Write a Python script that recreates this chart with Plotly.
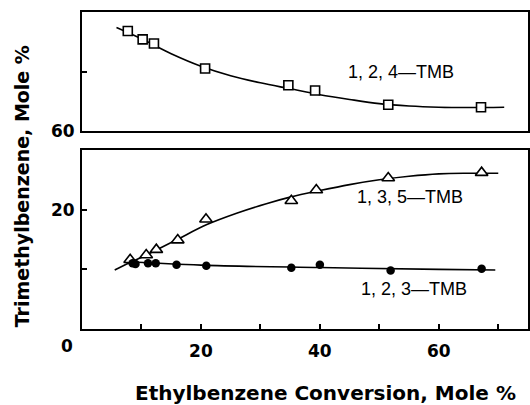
import plotly.graph_objects as go

# --- data ---
x_124 = [7.7, 10.2, 12.1, 20.7, 34.7, 39.2, 51.5, 67.1]
y_124 = [76.8, 75.4, 74.7, 70.5, 67.7, 66.8, 64.4, 64.0]
x_135 = [8.1, 10.8, 12.5, 16.1, 20.85, 35.2, 39.4, 51.5, 67.2]
y_135 = [11.6, 12.4, 13.3, 14.9, 18.4, 21.5, 23.3, 25.3, 26.2]
x_123 = [8.5, 9.0, 11.1, 12.4, 15.9, 20.9, 35.2, 40.0, 51.9, 67.2]
y_123 = [11.0, 10.9, 11.0, 11.0, 10.75, 10.6, 10.25, 10.75, 9.8, 10.1]

# fitted curves
cx_124 = [5.8, 10, 15, 20, 25, 30, 35, 40, 45, 50, 55, 60, 65, 71]
cy_124 = [77.4, 75.5, 73.0, 70.9, 69.3, 68.1, 67.1, 66.1, 65.3, 64.6, 64.2, 64.0, 63.95, 64.0]
cx_135 = [5.5, 8, 11, 13, 16, 21, 26, 31, 35, 40, 45, 50, 55, 60, 65, 70]
cy_135 = [9.9, 11.1, 12.5, 13.5, 15.0, 17.5, 19.4, 21.0, 22.1, 23.2, 24.2, 25.0, 25.6, 26.0, 26.1, 26.1]
cx_123 = [7.5, 20, 40, 60, 69.5]
cy_123 = [11.3, 10.7, 10.3, 10.0, 9.9]

x_ticks = [10, 20, 30, 40, 50, 60, 70]
x_ticktext = ["", "20", "", "40", "", "60", ""]
y_low_ticks = [10, 20]
y_low_ticktext = ["", "20"]
y_top_ticks = [60, 70]
y_top_ticktext = ["60", ""]

labels = ["1, 2, 4\u2014TMB", "1, 3, 5\u2014TMB", "1, 2, 3\u2014TMB"]
x_title = "Ethylbenzene Conversion, Mole %"
y_title = "Trimethylbenzene, Mole %"

BOLD = "DejaVu Sans"
LINE = dict(color="black", width=1.6)
tick_font = dict(family=BOLD, size=17, color="black", weight="bold")
xtitle_font = dict(family=BOLD, size=20, color="black", weight="bold")
ytitle_font = dict(family=BOLD, size=19, color="black", weight="bold")

fig = go.Figure()

# curves
fig.add_trace(go.Scatter(x=cx_124, y=cy_124, mode="lines", line=dict(shape="spline", **LINE),
                         xaxis="x2", yaxis="y2", showlegend=False, hoverinfo="skip"))
fig.add_trace(go.Scatter(x=cx_135, y=cy_135, mode="lines", line=dict(shape="spline", **LINE),
                         showlegend=False, hoverinfo="skip"))
fig.add_trace(go.Scatter(x=cx_123, y=cy_123, mode="lines", line=dict(shape="spline", **LINE),
                         showlegend=False, hoverinfo="skip"))

# markers
fig.add_trace(go.Scatter(x=x_124, y=y_124, mode="markers", xaxis="x2", yaxis="y2",
                         marker=dict(symbol="square", size=9, color="white",
                                     line=dict(color="black", width=1.6)),
                         showlegend=False))
fig.add_trace(go.Scatter(x=x_135, y=y_135, mode="markers",
                         marker=dict(symbol="triangle-up", size=11, color="white",
                                     line=dict(color="black", width=1.6)),
                         showlegend=False))
fig.add_trace(go.Scatter(x=x_123, y=y_123, mode="markers",
                         marker=dict(symbol="circle", size=8.5, color="black",
                                     line=dict(color="black", width=0)),
                         showlegend=False))

axis_common = dict(showline=True, linecolor="black", linewidth=2, mirror=True,
                   showgrid=False, zeroline=False, ticks="inside", ticklen=5,
                   tickwidth=1.5, tickcolor="black")

fig.update_layout(
    width=530, height=405,
    margin=dict(l=82, r=0, t=12, b=76),
    paper_bgcolor="white", plot_bgcolor="white",
    xaxis=dict(domain=[0, 1], range=[0, 75], anchor="y",
               tickvals=x_ticks, ticktext=x_ticktext, tickfont=tick_font,
               ticklabelstandoff=6, **axis_common),
    xaxis2=dict(domain=[0, 1], range=[0, 75], anchor="y2", matches="x",
                showticklabels=False, showline=True, linecolor="black", linewidth=2,
                mirror=True, showgrid=False, zeroline=False, ticks=""),
    yaxis=dict(domain=[0, 0.5647], range=[0, 30], anchor="x",
               tickvals=y_low_ticks, ticktext=y_low_ticktext, tickfont=tick_font,
               ticklabelstandoff=2, **axis_common),
    yaxis2=dict(domain=[0.6246, 1], range=[60, 80], anchor="x2",
                tickvals=y_top_ticks, ticktext=y_top_ticktext, tickfont=tick_font,
                ticklabelstandoff=2, **axis_common),
)

ann_font = dict(family="Liberation Sans", size=18, color="black")
fig.add_annotation(x=53.7, y=70.0, xref="x2", yref="y2", text=labels[0],
                   showarrow=False, font=ann_font)
fig.add_annotation(x=55.2, y=22.2, xref="x", yref="y", text=labels[1],
                   showarrow=False, font=ann_font)
fig.add_annotation(x=55.9, y=6.75, xref="x", yref="y", text=labels[2],
                   showarrow=False, font=ann_font)

# corner "0" label
fig.add_annotation(x=0, y=0, xref="x", yref="y", text="0", showarrow=False,
                   xshift=-15, yshift=-17, font=tick_font)

# axis titles
fig.add_annotation(xref="paper", yref="paper", x=(327 - 82) / 448, y=-(393 - 329) / 317,
                   text=x_title, showarrow=False, xanchor="center", yanchor="middle",
                   font=xtitle_font)
fig.add_annotation(xref="paper", yref="paper", x=-(82 - 22) / 448, y=(329 - 186) / 317,
                   text=y_title, textangle=-90, showarrow=False,
                   xanchor="center", yanchor="middle", font=ytitle_font)

fig.write_html("out.html")
